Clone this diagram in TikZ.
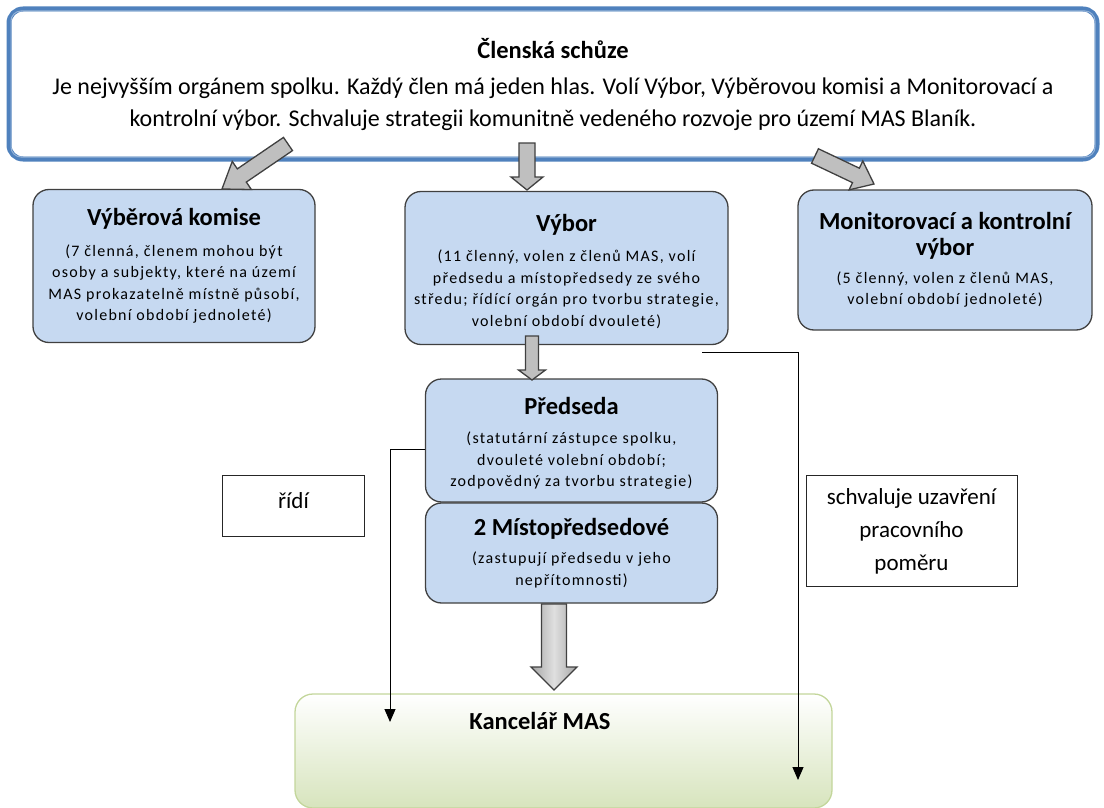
\documentclass[tikz,border=0pt]{standalone}
\usepackage{fontspec}
\setmainfont{Carlito}
\newfontfamily\spc[LetterSpace=8]{Carlito}
\usetikzlibrary{calc,arrows.meta}
\definecolor{boxblue}{HTML}{C6D9F1}
\definecolor{boxedge}{HTML}{404040}
\definecolor{topblue}{HTML}{4F81BD}
\definecolor{topblue2}{HTML}{95B3D7}
\definecolor{arrgray}{HTML}{BFBFBF}
\definecolor{kancgreen}{HTML}{D7E4BD}
\definecolor{kancedge}{HTML}{C3D69B}
\newcommand\blockarr[6]{%
  \coordinate (bM) at ($(#2)!#5!(#1)$);
  \draw[#6] ($(#1)!#3!90:(#2)$) -- ($(bM)!#3!-90:(#1)$) -- ($(bM)!#4!-90:(#1)$) -- (#2)
    -- ($(bM)!#4!90:(#1)$) -- ($(bM)!#3!90:(#1)$) -- ($(#1)!#3!-90:(#2)$) -- cycle;
}
\newcommand\ttl{\rmfamily\fontsize{24.5}{28}\selectfont\bfseries}
\newcommand\sml{\spc\fontsize{16}{21.5}\selectfont}
\tikzset{
  bluebox/.style={draw=boxedge, line width=1.3pt, fill=boxblue, rounded corners=16pt, align=center, inner sep=0pt, font=\sml},
  note/.style={draw=black!85, line width=1pt, fill=white, align=center, inner sep=0pt},
  garrow/.style={draw=boxedge, line width=1.3pt, fill=arrgray, line join=miter},
  conn/.style={draw=black, line width=1pt, -{Triangle[length=13pt,width=11pt]}},
}
\begin{document}
\begin{tikzpicture}[x=1pt,y=-1pt]
\useasboundingbox (0,0) rectangle (1104,808);
% top box
\node[draw=topblue, line width=5pt, fill=white, rounded corners=14pt, minimum width=1088pt, minimum height=150pt, inner sep=0pt, align=center, font=\fontsize{24}{32}\selectfont] (top) at (553,84)
 {{\ttl Členská schůze}\\[4pt]
  Je nejvyšším orgánem spolku. Každý člen má jeden hlas. Volí Výbor, Výběrovou komisi a Monitorovací a\\
  kontrolní výbor. Schvaluje strategii komunitně vedeného rozvoje pro území MAS Blaník.};
\draw[topblue2, line width=1pt, rounded corners=10pt] ($(top.north west)+(4.5,4.5)$) rectangle ($(top.south east)+(-4.5,-4.5)$);
% blue boxes
\node[bluebox, minimum width=282pt, minimum height=153pt] (vk) at (174,266)
 {{\ttl Výběrová komise}\\[9pt]
  (7 členná, členem mohou být\\ osoby a subjekty, které na území\\ MAS prokazatelně místně působí,\\ volební období jednoleté)};
\node[bluebox, minimum width=323pt, minimum height=153pt] (vy) at (566.5,268)
 {\mbox{}\\[2pt]{\ttl Výbor}\\[9pt]
  (11 členný, volen z členů MAS, volí\\ předsedu a místopředsedy ze svého\\ středu; řídící orgán pro tvorbu strategie,\\ volební období dvouleté)};
\node[bluebox, minimum width=294pt, minimum height=140pt] (mk) at (945,260)
 {{\ttl Monitorovací a kontrolní}\\[4pt] {\ttl výbor}\\[6.5pt]
  (5 členný, volen z členů MAS,\\ volební období jednoleté)};
\node[bluebox, minimum width=292pt, minimum height=123pt] (pr) at (571.5,440.5)
 {\mbox{}\\[2pt]{\ttl Předseda}\\[7.5pt]
  (statutární zástupce spolku,\\ dvouleté volební období;\\ zodpovědný za tvorbu strategie)};
\node[bluebox, minimum width=292pt, minimum height=100pt] (mp) at (571.5,553)
 {{\ttl 2 Místopředsedové}\\[6.5pt]
  (zastupují předsedu v jeho\\ nepřítomnosti)};
% Kancelar
\node[draw=kancedge, line width=1.3pt, top color=white, bottom color=kancgreen, rounded corners=18pt, minimum width=537pt, minimum height=114pt, inner sep=0pt] (ka) at (563.5,751) {};
\node[font=\ttl, inner sep=0pt] (kat) at (540,721) {Kancelář MAS};
% notes
\node[note, minimum width=142pt, minimum height=61pt,
  label={[name=rit, font=\fontsize{23}{28}\selectfont, yshift=5pt]center:řídí}] (ri) at (293.5,505.5) {};
\node[note, minimum width=211pt, minimum height=111pt, font=\fontsize{23}{33}\selectfont] (sc) at (911.5,531)
 {schvaluje uzavření\\ pracovního\\ poměru};
% block arrows
\coordinate (aLt) at (288,144); \coordinate (aLh) at (222,189);
\coordinate (aMt) at (527,143); \coordinate (aMh) at (527,190);
\coordinate (aRt) at (815,156); \coordinate (aRh) at (874,184);
\coordinate (aVt) at (532,336); \coordinate (aVh) at (532,380);
\coordinate (aKt) at (554,604); \coordinate (aKh) at (554,690);
\blockarr{aLt}{aLh}{8pt}{17pt}{24pt}{garrow}
\blockarr{aMt}{aMh}{8pt}{16pt}{13pt}{garrow}
\blockarr{aRt}{aRh}{8pt}{16pt}{20pt}{garrow}
\blockarr{aVt}{aVh}{6.5pt}{13.5pt}{10pt}{garrow}
\blockarr{aKt}{aKh}{12.5pt}{23pt}{23pt}{garrow, left color=gray!70, right color=gray!70, middle color=gray!25}
% connectors
\coordinate (c1) at (pr.west |- 0,449);
\coordinate (c1e) at (390,722);
\draw[conn] (c1) -| (c1e);
\coordinate (c2) at (702,352);
\coordinate (c2e) at (798,780);
\draw[conn] (c2) -| (c2e);
\end{tikzpicture}
\end{document}
